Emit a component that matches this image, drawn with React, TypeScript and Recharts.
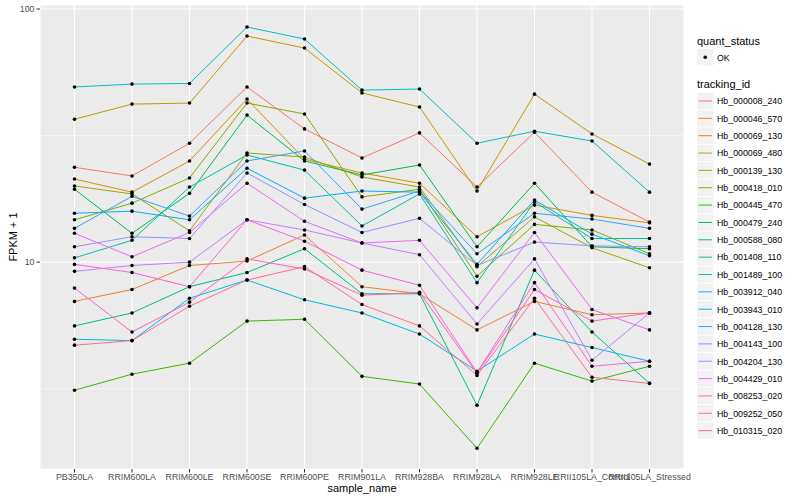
import React from 'react';
import { LineChart, Line, XAxis, YAxis, CartesianGrid } from 'recharts';

const categories = [
  'PB350LA', 'RRIM600LA', 'RRIM600LE', 'RRIM600SE', 'RRIM600PE', 'RRIM901LA',
  'RRIM928BA', 'RRIM928LA', 'RRIM928LE', 'RRII105LA_Control', 'RRII105LA_Stressed',
];

const trackingIds = [
  'Hb_000008_240', 'Hb_000046_570', 'Hb_000069_130', 'Hb_000069_480', 'Hb_000139_130',
  'Hb_000418_010', 'Hb_000445_470', 'Hb_000479_240', 'Hb_000588_080', 'Hb_001408_110',
  'Hb_001489_100', 'Hb_003912_040', 'Hb_003943_010', 'Hb_004128_130', 'Hb_004143_100',
  'Hb_004204_130', 'Hb_004429_010', 'Hb_008253_020', 'Hb_009252_050', 'Hb_010315_020',
];

const lineColors = [
  '#F8766D', '#EA8331', '#D89000', '#C09B00', '#A3A500', '#7CAE00', '#39B600', '#00BB4E',
  '#00BF7D', '#00C1A3', '#00BFC4', '#00BAE0', '#00B0F6', '#35A2FF', '#9590FF', '#C77CFF',
  '#E76BF3', '#FA62DB', '#FF62BC', '#FF6C91',
];

// FPKM + 1, one value per sample
const hb000008_240 = [23.7, 21.9, 29.5, 49.2, 33.6, 25.8, 32.4, 19.8, 32.6, 18.9, 14.4];
const hb000046_570 = [7.0, 7.8, 9.7, 10.1, 12.8, 8.0, 7.5, 5.4, 7.0, 6.2, 6.3];
const hb000069_130 = [21.3, 18.9, 25.1, 44.1, 25.5, 22.5, 20.5, 12.6, 16.8, 15.3, 14.3];
const hb000069_480 = [36.7, 42.1, 42.5, 78.2, 70.1, 46.6, 41.0, 19.1, 46.1, 32.1, 24.4];
const hb000139_130 = [20.0, 18.6, 13.3, 27.0, 26.0, 21.7, 19.8, 9.6, 15.1, 11.4, 9.5];
const hb000418_010 = [14.7, 17.1, 21.5, 42.5, 38.5, 18.1, 19.4, 8.8, 14.1, 13.4, 10.8];
const hb000445_470 = [3.12, 3.61, 3.99, 5.85, 5.95, 3.54, 3.3, 1.84, 3.99, 3.39, 3.88];
const hb000479_240 = [19.4, 13.0, 18.7, 38.1, 25.1, 22.1, 24.2, 11.5, 20.5, 11.5, 11.3];
const hb000588_080 = [5.6, 6.3, 8.0, 9.1, 11.3, 7.5, 7.5, 2.72, 9.3, 5.3, 3.32];
const hb001408_110 = [10.4, 12.2, 19.8, 26.5, 23.1, 13.9, 18.6, 8.3, 17.3, 12.4, 12.4];
const hb001489_100 = [49.2, 50.5, 50.8, 84.9, 76.1, 47.8, 48.3, 29.5, 32.9, 30.1, 18.9];
const hb003912_040 = [4.96, 4.9, 7.2, 8.5, 7.1, 6.3, 5.2, 3.71, 5.2, 4.6, 4.06];
const hb003943_010 = [15.6, 15.9, 14.7, 23.5, 17.9, 19.1, 18.9, 9.8, 17.6, 12.9, 10.6];
const hb004128_130 = [13.6, 18.2, 15.2, 25.1, 27.5, 16.2, 19.1, 10.8, 15.6, 14.8, 13.6];
const hb004143_100 = [11.5, 12.6, 12.4, 22.5, 16.9, 13.1, 14.9, 9.7, 12.0, 11.6, 11.5];
const hb004204_130 = [9.2, 9.7, 10.0, 14.7, 13.4, 11.9, 10.7, 5.7, 10.3, 4.1, 6.3];
const hb004429_010 = [13.0, 10.5, 13.1, 20.5, 14.5, 11.9, 12.2, 6.6, 13.1, 6.5, 5.4];
const hb008253_020 = [9.8, 9.1, 8.0, 14.7, 12.1, 9.3, 8.1, 3.67, 8.3, 3.88, 4.06];
const hb009252_050 = [7.9, 5.3, 6.95, 10.3, 9.4, 7.4, 7.6, 3.64, 7.8, 5.85, 6.3];
const hb010315_020 = [4.7, 4.9, 6.7, 8.5, 9.6, 6.8, 5.6, 3.57, 7.2, 3.51, 3.32];

const seriesValues = [
  hb000008_240, hb000046_570, hb000069_130, hb000069_480, hb000139_130,
  hb000418_010, hb000445_470, hb000479_240, hb000588_080, hb001408_110,
  hb001489_100, hb003912_040, hb003943_010, hb004128_130, hb004143_100,
  hb004204_130, hb004429_010, hb008253_020, hb009252_050, hb010315_020,
];

const yTicks = [10, 100];
const yMinorTicks = [3.1623, 31.623];

const FONT = '"Liberation Sans", Arial, Helvetica, sans-serif';

const data = categories.map((name, i) => {
  const row: any = { idx: i, name };
  trackingIds.forEach((id, k) => {
    row[id] = seriesValues[k][i];
  });
  return row;
});

const Legend = () => {
  const x0 = 697;
  const rowH = 17.35;
  const firstY = 101;
  return (
    <svg
      width={800}
      height={500}
      style={{ position: 'absolute', left: 0, top: 0, pointerEvents: 'none', fontFamily: FONT }}
    >
      {/* axis titles */}
      <text x={13} y={237} transform="rotate(-90 13 237)" textAnchor="middle" dominantBaseline="central" fontSize={11} fill="#000">
        FPKM + 1
      </text>
      <text x={362} y={488} textAnchor="middle" dominantBaseline="central" fontSize={11} fill="#000">
        sample_name
      </text>

      {/* quant_status */}
      <text x={x0} y={41} dominantBaseline="central" fontSize={11} fill="#000">quant_status</text>
      <rect x={x0} y={49} width={16.5} height={16.5} fill="#F2F2F2" />
      <circle cx={x0 + 8.25} cy={57.25} r={1.8} fill="#000" />
      <text x={x0 + 20} y={57.5} dominantBaseline="central" fontSize={8.8} fill="#000">OK</text>

      {/* tracking_id */}
      <text x={x0} y={84} dominantBaseline="central" fontSize={11} fill="#000">tracking_id</text>
      {trackingIds.map((id, k) => {
        const cy = firstY + k * rowH;
        return (
          <g key={id}>
            <rect x={x0} y={cy - 8.2} width={16.5} height={16.4} fill="#F2F2F2" />
            <line x1={x0 + 1.5} x2={x0 + 15} y1={cy} y2={cy} stroke={lineColors[k]} strokeWidth={1} />
            <text x={x0 + 20} y={cy + 0.3} dominantBaseline="central" fontSize={8.8} fill="#000">{id}</text>
          </g>
        );
      })}
    </svg>
  );
};

export default function App() {
  return (
    <div style={{ position: 'absolute', left: 0, top: 0, width: 800, height: 500, background: '#fff', fontFamily: FONT }}>
      <LineChart width={800} height={500} data={data} margin={{ top: 5, right: 116, bottom: 11, left: 0 }}>
        <CartesianGrid fill="#EBEBEB" stroke="#FFFFFF" strokeWidth={1.1} />
        <CartesianGrid horizontalValues={yMinorTicks} vertical={false} stroke="#FFFFFF" strokeWidth={0.55} />
        <XAxis
          type="number"
          dataKey="idx"
          domain={[-0.6, 10.6]}
          ticks={categories.map((_, i) => i)}
          interval={0}
          tickFormatter={(i: number) => categories[i]}
          height={20}
          tickSize={3.5}
          tickMargin={1}
          axisLine={false}
          tickLine={{ stroke: '#333333' }}
          tick={{ fontSize: 8.8, fill: '#4D4D4D', fontFamily: FONT }}
        />
        <YAxis
          type="number"
          scale="log"
          domain={[1.524, 103.7]}
          allowDataOverflow
          ticks={yTicks}
          width={40}
          tickSize={3.5}
          tickMargin={2}
          axisLine={false}
          tickLine={{ stroke: '#333333' }}
          tick={{ fontSize: 8.8, fill: '#4D4D4D', fontFamily: FONT }}
        />
        {trackingIds.map((id, k) => (
          <Line
            key={id}
            type="linear"
            dataKey={id}
            stroke={lineColors[k]}
            strokeWidth={1}
            dot={false}
            activeDot={false}
            isAnimationActive={false}
          />
        ))}
        {trackingIds.map((id) => (
          <Line
            key={id + '_pts'}
            type="linear"
            dataKey={id}
            stroke="none"
            dot={{ r: 1.8, fill: '#000', stroke: 'none' }}
            activeDot={false}
            legendType="none"
            isAnimationActive={false}
          />
        ))}
      </LineChart>
      <Legend />
    </div>
  );
}
